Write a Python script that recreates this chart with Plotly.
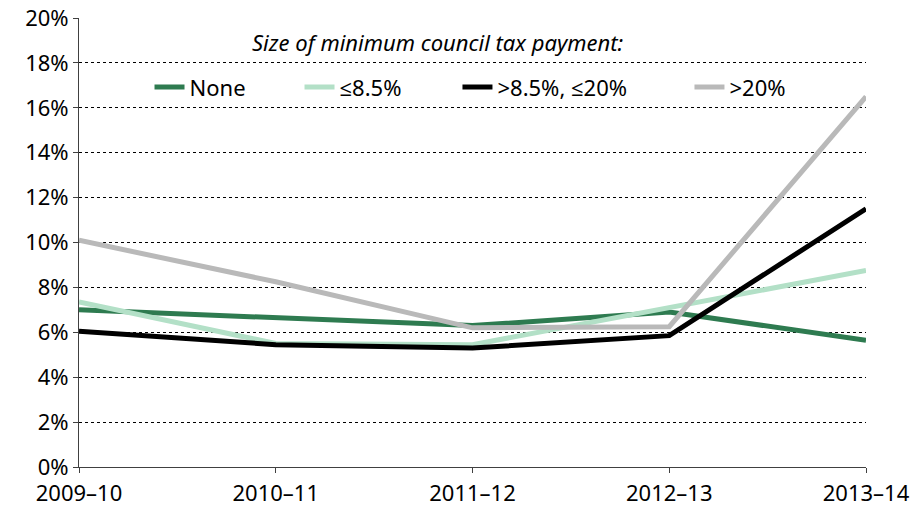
import plotly.graph_objects as go

years = ["2009\u201310", "2010\u201311", "2011\u201312", "2012\u201313", "2013\u201314"]

none_vals = [7.0, 6.65, 6.3, 6.9, 5.65]
upto_8_5 = [7.35, 5.5, 5.45, 7.1, 8.75]
from_8_5_to_20 = [6.05, 5.45, 5.3, 5.85, 11.5]
over_20 = [10.1, 8.25, 6.2, 6.25, 16.5]

series_names = ["None", "\u22648.5%", ">8.5%, \u226420%", ">20%"]
series_colors = ["#2e7b50", "#b3e0c7", "#000000", "#b9b9b9"]

font_family = "Noto Sans, Open Sans, sans-serif"
font_size = 22

# each series gets its own legend box so the entries can be spaced like the original
legend_ids = ["legend", "legend2", "legend3", "legend4"]
legend_x = [0.0896, 0.2802, 0.4809, 0.7757]

fig = go.Figure()
for name, vals, color, lid in zip(series_names,
                                  [none_vals, upto_8_5, from_8_5_to_20, over_20],
                                  series_colors, legend_ids):
    fig.add_trace(go.Scatter(
        x=years, y=vals, name=name, mode="lines",
        line=dict(color=color, width=5),
        legend=lid,
    ))

# legend heading sits above the entries
fig.add_annotation(
    text="<i>Size of minimum council tax payment:</i>",
    xref="paper", yref="paper", x=0.455, y=0.947,
    xanchor="center", yanchor="middle", showarrow=False,
    font=dict(size=font_size, color="black", family=font_family),
)

legend_style = dict(orientation="h", y=0.846, xanchor="left", yanchor="middle",
                    bgcolor="rgba(0,0,0,0)", font=dict(size=font_size))
layout_legends = {lid: dict(legend_style, x=x) for lid, x in zip(legend_ids, legend_x)}

fig.update_layout(
    width=914, height=508,
    margin=dict(l=79, r=48, t=18, b=41),
    plot_bgcolor="white", paper_bgcolor="white",
    font=dict(family=font_family, size=font_size, color="black"),
    showlegend=True,
    xaxis=dict(
        type="category", range=[0, 4], showgrid=False, zeroline=False,
        showline=True, linecolor="#404040", linewidth=1,
        ticks="outside", ticklen=5, tickcolor="#404040",
        tickfont=dict(size=font_size), ticklabelstandoff=2, automargin=False,
    ),
    yaxis=dict(
        range=[0, 20], dtick=2, ticksuffix="%",
        showgrid=True, gridcolor="black", gridwidth=1, griddash="dot",
        zeroline=False, showline=True, linecolor="#404040", linewidth=1,
        ticks="outside", ticklen=5, tickcolor="#404040",
        tickfont=dict(size=font_size), automargin=False,
    ),
    **layout_legends,
)

# drop the browser's default 8px body margin so the figure sits at the page corner
fig.write_html("out.html", config={"displayModeBar": False},
               post_script="document.body.style.margin = '0';")
